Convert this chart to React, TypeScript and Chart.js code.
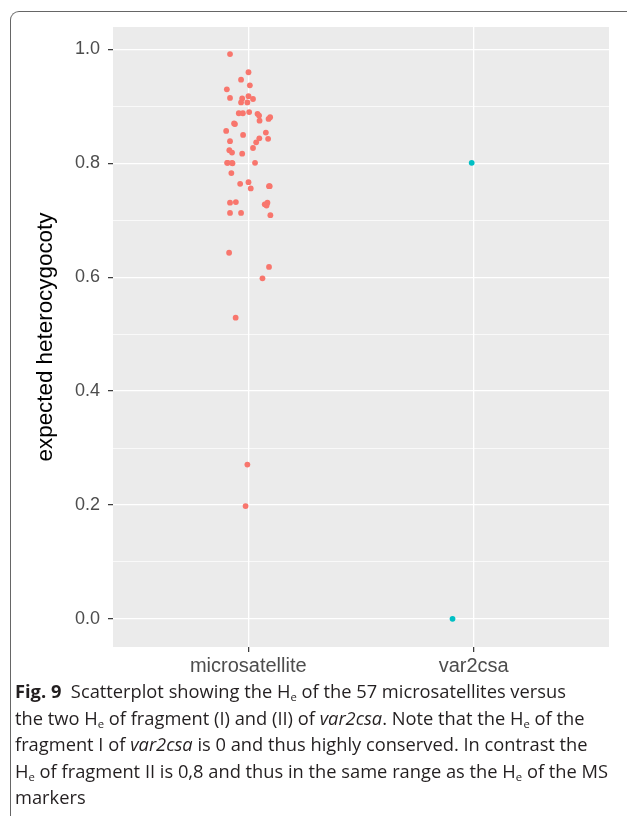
import React, { useEffect, useRef } from "react";
import { Chart, registerables } from "chart.js";

Chart.register(...registerables);

const categories = ["microsatellite", "var2csa"];
const yMajorTicks = [0, 0.2, 0.4, 0.6, 0.8, 1.0];

// jittered x positions (category 1 = microsatellite) and expected heterozygosity values
const msJitterX = [
  0.919, 1.001, 0.968, 1.007, 0.905, 0.919, 0.973, 1.001, 1.021, 0.968,
  0.996, 0.958, 0.976, 1.004, 1.041, 1.048, 1.050, 1.090, 1.097, 0.941,
  0.937, 0.902, 0.977, 1.078, 1.088, 1.049, 1.035, 0.919, 1.021, 0.916,
  0.928, 0.973, 0.906, 0.928, 0.930, 1.030, 0.925, 0.964, 1.001, 1.011,
  1.092, 0.919, 0.945, 1.073, 1.085, 1.081, 0.919, 0.968, 1.098, 0.915,
  1.092, 1.063, 0.944, 0.996, 0.988, 0.909, 1.095,
];
const msHe = [
  0.992, 0.960, 0.947, 0.937, 0.930, 0.915, 0.914, 0.918, 0.913, 0.907,
  0.907, 0.888, 0.888, 0.890, 0.887, 0.884, 0.875, 0.878, 0.881, 0.869,
  0.870, 0.857, 0.850, 0.854, 0.843, 0.844, 0.837, 0.839, 0.827, 0.823,
  0.819, 0.817, 0.801, 0.801, 0.800, 0.801, 0.783, 0.764, 0.767, 0.756,
  0.760, 0.731, 0.732, 0.728, 0.731, 0.726, 0.713, 0.713, 0.709, 0.643,
  0.618, 0.598, 0.529, 0.271, 0.198, 0.801, 0.760,
];
const v2JitterX = [1.906, 1.991];
const v2He = [0.0, 0.801];

const FONT = "'Liberation Sans', Arial, Helvetica, sans-serif";

const isMajor = (v: number) => Math.round(v * 10) % 2 === 0;

function ScatterChart() {
  const ref = useRef<HTMLCanvasElement | null>(null);
  useEffect(() => {
    if (!ref.current) return;
    const panelBg = {
      id: "panelBg",
      beforeDraw(chart: any) {
        const { ctx, chartArea: a } = chart;
        ctx.save();
        ctx.fillStyle = "#EBEBEB";
        ctx.fillRect(a.left, a.top, a.right - a.left, a.bottom - a.top);
        ctx.restore();
      },
    };
    const chart = new Chart(ref.current, {
      type: "scatter",
      data: {
        datasets: [
          {
            label: categories[0],
            data: msHe.map((y, i) => ({ x: msJitterX[i], y })),
            backgroundColor: "#F8766D",
            borderWidth: 0,
            pointRadius: 2.9,
          },
          {
            label: categories[1],
            data: v2He.map((y, i) => ({ x: v2JitterX[i], y })),
            backgroundColor: "#00BFC4",
            borderWidth: 0,
            pointRadius: 2.9,
          },
        ],
      },
      options: {
        animation: false,
        responsive: false,
        layout: { padding: { left: 0, right: 20, top: 27, bottom: 0 } },
        plugins: { legend: { display: false }, tooltip: { enabled: false } },
        scales: {
          x: {
            type: "linear",
            min: 0.4,
            max: 2.6,
            afterBuildTicks: (s: any) => {
              s.ticks = categories.map((_, i) => ({ value: i + 1 }));
            },
            afterFit: (s: any) => {
              s.height = 40;
            },
            ticks: {
              callback: (v: any) => categories[Math.round(v) - 1] ?? "",
              color: "#4D4D4D",
              font: { family: FONT, size: 20 },
              padding: 2,
              maxRotation: 0,
              autoSkip: false,
            },
            grid: {
              color: "#FFFFFF",
              lineWidth: 1.3,
              tickColor: "#333333",
              tickLength: 5,
              tickWidth: 1.2,
            },
            border: { display: false },
          },
          y: {
            min: -0.0495,
            max: 1.0395,
            afterFit: (s: any) => {
              s.width = 113;
            },
            ticks: {
              stepSize: 0.1,
              includeBounds: false,
              autoSkip: false,
              callback: (v: any) =>
                isMajor(v) && yMajorTicks.some((t) => Math.abs(t - v) < 1e-6)
                  ? Math.abs(Math.round(v * 10) / 10).toFixed(1)
                  : "",
              color: "#4D4D4D",
              font: { family: FONT, size: 18 },
              padding: 8,
            },
            grid: {
              color: "#FFFFFF",
              lineWidth: (c: any) => (isMajor(c.tick?.value ?? 0) ? 1.3 : 0.7),
              tickColor: (c: any) =>
                isMajor(c.tick?.value ?? 0) ? "#333333" : "rgba(0,0,0,0)",
              tickLength: 5,
              tickWidth: 1.2,
            },
            border: { display: false },
            title: {
              display: true,
              text: "expected heterocygocoty",
              color: "#000000",
              font: { family: FONT, size: 22.4 },
              padding: { top: 32, bottom: 0 },
            },
          },
        },
      },
      plugins: [panelBg],
    } as any);
    return () => chart.destroy();
  }, []);
  return (
    <canvas
      ref={ref}
      width={629}
      height={687}
      style={{ position: "absolute", left: 0, top: 0, width: 629, height: 687 }}
    />
  );
}

const sub = (
  <sub style={{ fontSize: "0.62em", verticalAlign: "-0.3em", lineHeight: 0 }}>e</sub>
);

export default function App() {
  return (
    <div
      style={{
        position: "absolute",
        left: 0,
        top: 0,
        width: 629,
        height: 820,
        background: "#FFFFFF",
        overflow: "hidden",
      }}
    >
      <ScatterChart />
      <div
        style={{
          position: "absolute",
          left: 10,
          top: 11,
          width: 617,
          height: 805,
          borderTop: "1.5px solid #666",
          borderLeft: "1.5px solid #666",
          borderTopLeftRadius: 9,
          boxSizing: "border-box",
        }}
      />
      <div
        style={{
          position: "absolute",
          left: 15,
          top: 678,
          fontFamily: "'Open Sans', 'Noto Sans', sans-serif",
          fontSize: 18.3,
          lineHeight: "26.5px",
          color: "#231F20",
          whiteSpace: "nowrap",
        }}
      >
        <div>
          <b>Fig. 9</b>&nbsp;&nbsp;Scatterplot showing the H{sub} of the 57 microsatellites versus
        </div>
        <div>
          the two H{sub} of fragment (I) and (II) of <i>var2csa</i>. Note that the H{sub} of the
        </div>
        <div>
          fragment I of <i>var2csa</i> is 0 and thus highly conserved. In contrast the
        </div>
        <div>
          H{sub} of fragment II is 0,8 and thus in the same range as the H{sub} of the MS
        </div>
        <div>markers</div>
      </div>
    </div>
  );
}
